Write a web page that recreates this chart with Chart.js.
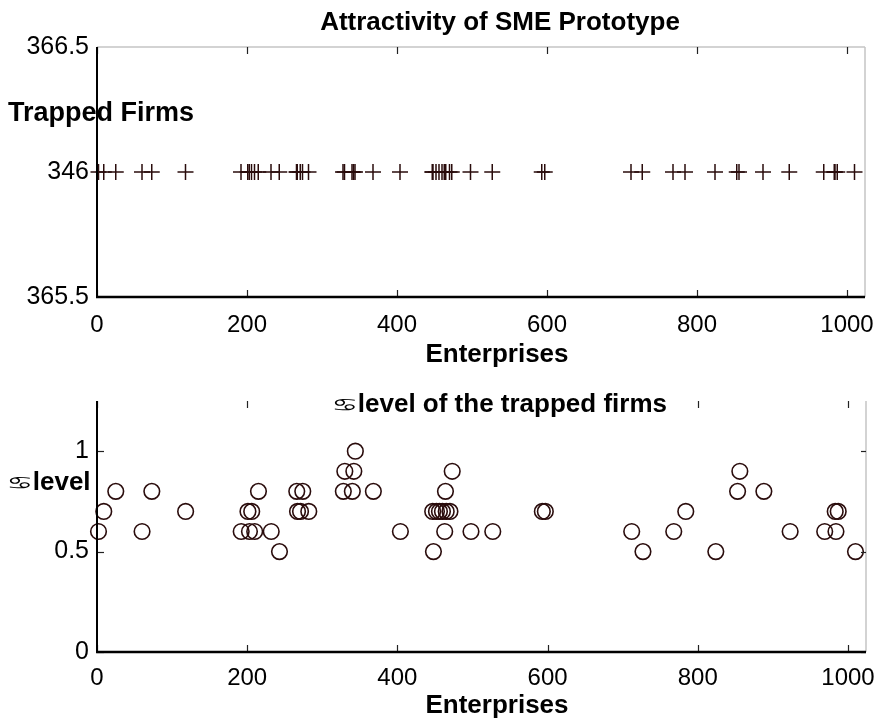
<!DOCTYPE html>
<html>
<head>
<meta charset="utf-8">
<script src="https://cdn.jsdelivr.net/npm/chart.js@4.4.1/dist/chart.umd.min.js"></script>
<style>
  html, body { margin: 0; padding: 0; background: #fff; }
  #page { position: relative; width: 880px; height: 724px; overflow: hidden; font-family: "Liberation Sans", Arial, "DejaVu Sans", sans-serif; }
  canvas { position: absolute; left: 0; }
  .lbl { position: absolute; font-weight: bold; font-size: 26px; line-height: 26px; color: #000; white-space: nowrap; }
  .sym { display: inline-block; font-family: "DejaVu Sans", sans-serif; font-weight: normal; font-size: 22px; transform: scale(1.35, 0.8); transform-origin: 50% 60%; margin-right: 3px; }
</style>
</head>
<body>
<div id="page">
  <canvas id="topChart" width="880" height="362" style="top:0"></canvas>
  <canvas id="bottomChart" width="880" height="362" style="top:362px"></canvas>

  <div class="lbl" style="left:500px; top:8px; transform:translateX(-50%)">Attractivity of SME Prototype</div>
  <div class="lbl" style="left:8px; top:99px; font-size:27px">Trapped Firms</div>
  <div class="lbl" style="left:497px; top:340px; transform:translateX(-50%)">Enterprises</div>

  <div class="lbl" style="left:501px; top:390px; transform:translateX(-50%); background:#fff; padding:0 2px"><span class="sym">♋</span>level of the trapped firms</div>
  <div class="lbl" style="left:10px; top:468px"><span class="sym">♋</span>level</div>
  <div class="lbl" style="left:497px; top:691px; transform:translateX(-50%)">Enterprises</div>
</div>

<script>
// enterprise index of each trapped firm (x)
const enterprises = [
  2, 9, 25, 60, 73, 118, 192, 201, 203, 206, 210, 215, 232, 243,
  266, 267, 271, 274, 282, 328, 330, 340, 342, 344, 368, 404,
  448, 447, 452, 456, 460, 463, 464, 465, 470, 473, 498, 527,
  593, 597, 712, 727, 768, 784, 824, 853, 856, 888, 923, 969,
  984, 983, 987, 1010
];
// sigma level of each trapped firm
const sigmaLevel = [
  0.6, 0.7, 0.8, 0.6, 0.8, 0.7, 0.6, 0.7, 0.6, 0.7, 0.6, 0.8, 0.6, 0.5,
  0.8, 0.7, 0.7, 0.8, 0.7, 0.8, 0.9, 0.8, 0.9, 1.0, 0.8, 0.6,
  0.5, 0.7, 0.7, 0.7, 0.7, 0.6, 0.8, 0.7, 0.7, 0.9, 0.6, 0.6,
  0.7, 0.7, 0.6, 0.5, 0.6, 0.7, 0.5, 0.8, 0.9, 0.8, 0.6, 0.6,
  0.6, 0.7, 0.7, 0.5
];
// all trapped firms sit on one row of the upper plot
const trappedRow = 366;

const xRange = [0, 1024];
const xTickValues = [0, 200, 400, 600, 800, 1000];
const xTickLabels = ['0', '200', '400', '600', '800', '1000'];

const topYRange = [365.5, 366.5];
const topYTickValues = [365.5, 366, 366.5];
const topYTickLabels = ['365.5', '346', '366.5'];

const botYRange = [0, 1.25];
const botYTickValues = [0, 0.5, 1];
const botYTickLabels = ['0', '0.5', '1'];

const markColor = '#2a0c0c';
const tickFont = { family: '"Liberation Sans", Arial, sans-serif', size: 24 };

// draws the matlab style box: black left/bottom axes, grey right/top, inward ticks
const framePlugin = {
  id: 'frame',
  afterDatasetsDraw(chart, args, opts) {
    const ctx = chart.ctx;
    const a = chart.chartArea;
    const xs = chart.scales.x, ys = chart.scales.y;
    const line = (x1, y1, x2, y2) => { ctx.beginPath(); ctx.moveTo(x1, y1); ctx.lineTo(x2, y2); ctx.stroke(); };
    ctx.save();
    ctx.strokeStyle = '#c4c4c4';
    ctx.lineWidth = 1.5;
    line(a.right, a.top, a.right, a.bottom);
    if (opts.topBorder) line(a.left, a.top, a.right, a.top);

    ctx.strokeStyle = '#222';
    ctx.lineWidth = 1.2;
    xTickValues.forEach(v => {
      const px = Math.round(xs.getPixelForValue(v)) + 0.5;
      line(px, a.bottom, px, a.bottom - 7);
      line(px, a.top, px, a.top + 7);
    });
    (opts.yTicks || []).forEach(v => {
      const py = Math.round(ys.getPixelForValue(v)) + 0.5;
      line(a.left, py, a.left + 7, py);
      line(a.right, py, a.right - 5, py);
    });

    ctx.strokeStyle = '#000';
    ctx.lineWidth = 2;
    line(a.left, a.top, a.left, a.bottom + 1);
    ctx.lineWidth = 2.5;
    line(a.left - 1, a.bottom, a.right, a.bottom);
    ctx.restore();
  }
};

function xScale(height, pad) {
  return {
    type: 'linear', min: xRange[0], max: xRange[1],
    grid: { display: false, drawTicks: false }, border: { display: false },
    afterBuildTicks: s => { s.ticks = xTickValues.map(v => ({ value: v })); },
    afterFit: s => { s.height = height; s.paddingLeft = 0; s.paddingRight = 0; },
    ticks: { autoSkip: false, maxRotation: 0, padding: pad, color: '#000', font: tickFont,
             callback: (v, i) => xTickLabels[i] }
  };
}

function yScale(range, values, labels) {
  return {
    type: 'linear', min: range[0], max: range[1],
    grid: { display: false, drawTicks: false }, border: { display: false },
    afterBuildTicks: s => { s.ticks = values.map(v => ({ value: v })); },
    afterFit: s => { s.width = 97; s.paddingTop = 0; s.paddingBottom = 0; },
    ticks: { autoSkip: false, padding: 8, color: '#000', font: { family: tickFont.family, size: 25 },
             callback: (v, i) => labels[i] }
  };
}

const commonOpts = {
  responsive: false,
  animation: false,
  events: [],
  plugins: { legend: { display: false }, tooltip: { enabled: false } }
};

new Chart(document.getElementById('topChart'), {
  type: 'scatter',
  data: {
    datasets: [{
      data: enterprises.map(x => ({ x: x, y: trappedRow })),
      pointStyle: 'cross',
      pointRadius: 8,
      borderColor: markColor,
      borderWidth: 1.5,
      clip: false
    }]
  },
  options: Object.assign({}, commonOpts, {
    layout: { padding: { top: 47, right: 15, left: 0, bottom: 0 } },
    scales: { x: xScale(65, 14), y: yScale(topYRange, topYTickValues, topYTickLabels) },
    plugins: Object.assign({}, commonOpts.plugins, { frame: { topBorder: true, yTicks: [] } })
  }),
  plugins: [framePlugin]
});

new Chart(document.getElementById('bottomChart'), {
  type: 'scatter',
  data: {
    datasets: [{
      data: enterprises.map((x, i) => ({ x: x, y: sigmaLevel[i] })),
      pointStyle: 'circle',
      pointRadius: 7.8,
      backgroundColor: 'rgba(0,0,0,0)',
      borderColor: markColor,
      borderWidth: 1.6,
      clip: false
    }]
  },
  options: Object.assign({}, commonOpts, {
    layout: { padding: { top: 39, right: 14, left: 0, bottom: 0 } },
    scales: { x: xScale(72, 12), y: yScale(botYRange, botYTickValues, botYTickLabels) },
    plugins: Object.assign({}, commonOpts.plugins, { frame: { topBorder: false, yTicks: botYTickValues } })
  }),
  plugins: [framePlugin]
});
</script>
</body>
</html>
